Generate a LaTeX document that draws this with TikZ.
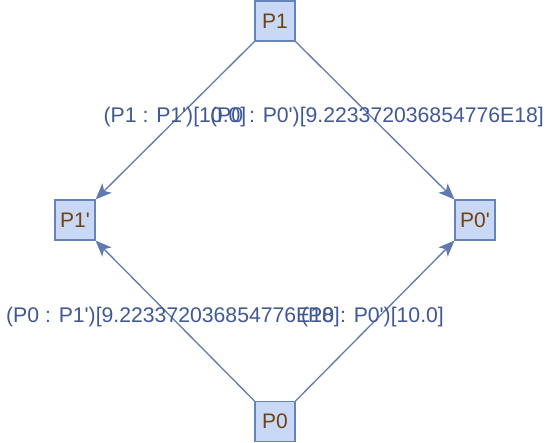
\documentclass[tikz,border=0pt]{standalone}
\usepackage{fontspec}
\setmainfont{Liberation Sans}[Ligatures=TeXOff]
\usetikzlibrary{arrows.meta}
\definecolor{boxfill}{RGB}{201,216,247}
\definecolor{boxdraw}{RGB}{104,130,186}
\definecolor{boxtext}{RGB}{112,66,16}
\definecolor{edgecol}{RGB}{96,121,176}
\definecolor{labcol}{RGB}{64,88,148}
\begin{document}
\begin{tikzpicture}[x=1pt,y=-1pt,
  vbox/.style={draw=boxdraw,fill=boxfill,line width=1.2pt,minimum width=40pt,minimum height=40pt,inner sep=0pt,text=boxtext,font=\fontsize{21}{24}\selectfont},
  conn/.style={draw=edgecol,line width=1.3pt,-{Stealth[length=16pt,width=13pt,inset=4pt]}},
  elab/.style={text=labcol,font=\fontsize{21.2}{24}\selectfont,inner sep=0pt}]
\useasboundingbox (0,0) rectangle (552,443);
\node[vbox] (p1) at (275,21) {P1};
\node[vbox] (p1p) at (75,220) {P1'};
\node[vbox] (p0p) at (475,220) {P0'};
\node[vbox] (p0) at (275,421.5) {P0};
\draw[conn] (p1.south west) -- node[elab,xshift=0pt,yshift=3pt] {(P1 : P1')[10.0]} (p1p.north east);
\draw[conn] (p1.south east) -- node[elab,xshift=2pt,yshift=3pt] {(P0 : P0')[9.223372036854776E18]} (p0p.north west);
\draw[conn] (p0.north west) -- node[elab,xshift=-2pt,yshift=3.5pt] {(P0 : P1')[9.223372036854776E18]} (p1p.south east);
\draw[conn] (p0.north east) -- node[elab,xshift=-2.5pt,yshift=3.5pt] {(P0 : P0')[10.0]} (p0p.south west);
\end{tikzpicture}
\end{document}
